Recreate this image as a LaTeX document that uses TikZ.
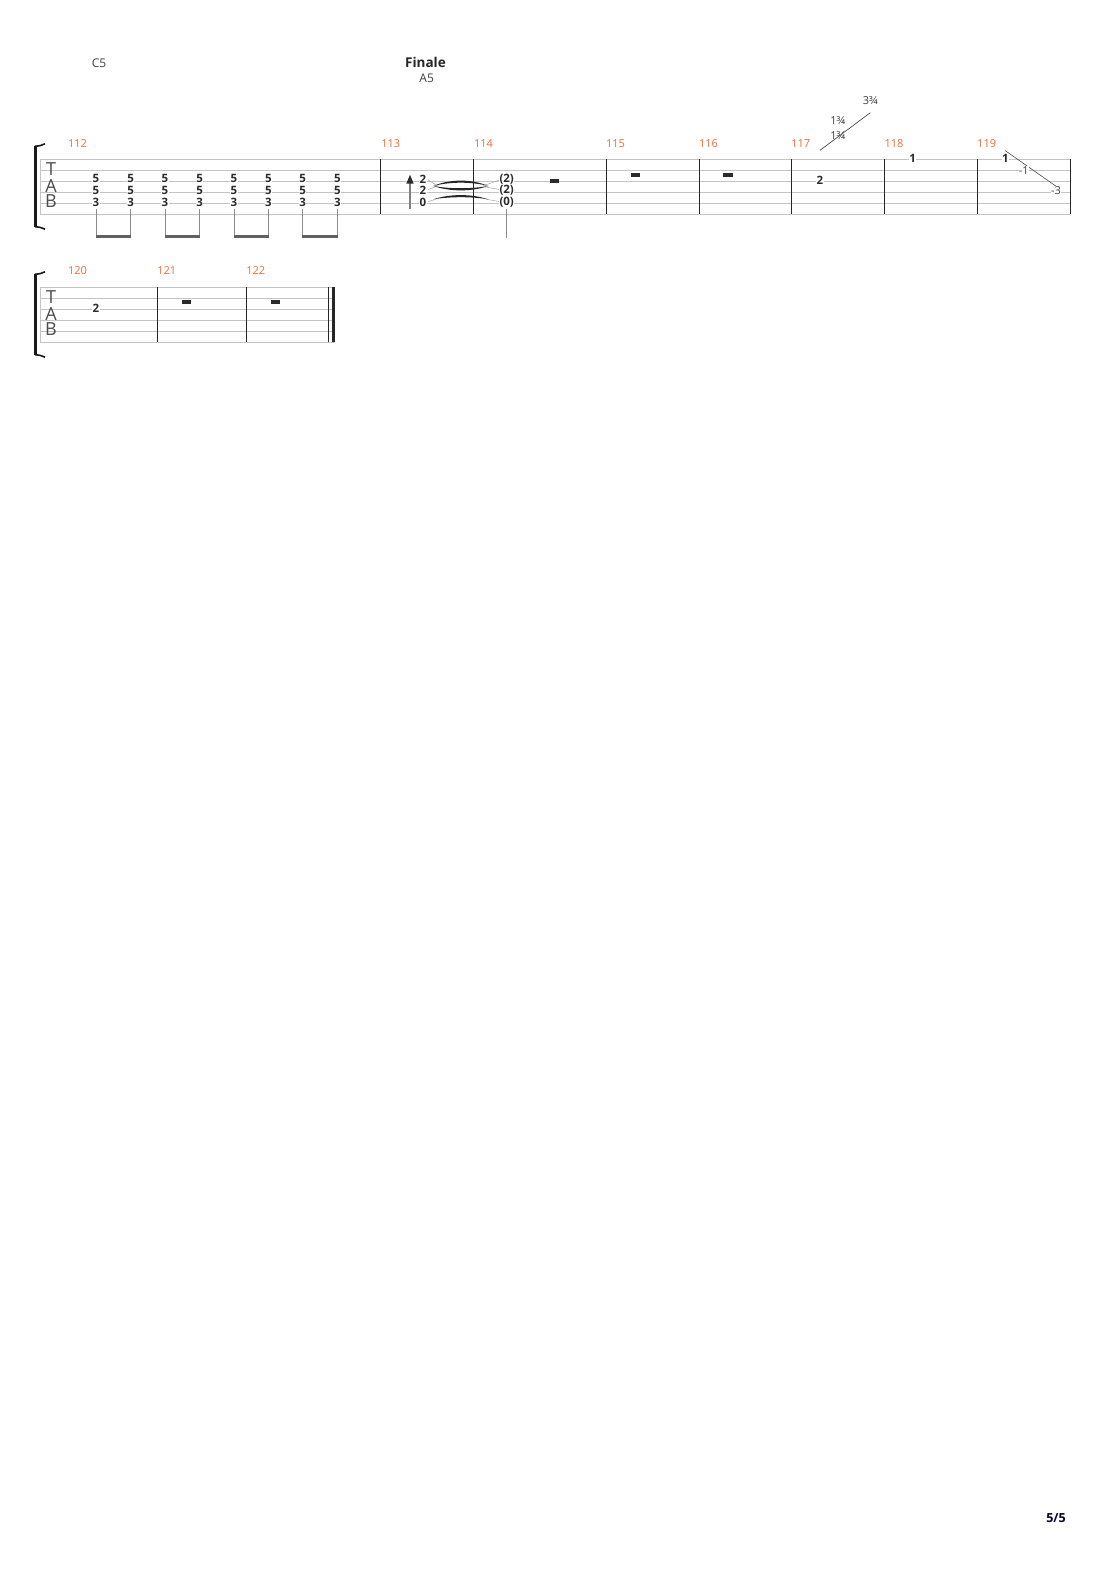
\documentclass[tikz,border=0pt]{standalone}
\usepackage{fontspec}
\setmainfont{Open Sans}
\definecolor{mnum}{HTML}{F26B3A}
\definecolor{staffc}{HTML}{C4C4C4}
\definecolor{barc}{HTML}{262626}
\definecolor{inkc}{HTML}{2B2B2B}
\begin{document}
\begin{tikzpicture}[x=1pt,y=-1pt,
  fret/.style={font=\bfseries\fontsize{11.5}{11.5}\selectfont, inner sep=0.5pt, fill=white, text=inkc},
  mnumst/.style={font=\fontsize{11}{11}\selectfont, text=mnum, inner sep=0, anchor=west},
  tabl/.style={font=\fontsize{18}{18}\selectfont, text=black!70, inner sep=0},
  chord/.style={font=\fontsize{12}{12}\selectfont, text=black!75, inner sep=0},
  small/.style={font=\fontsize{11}{11}\selectfont, text=black!75, inner sep=0},
  staffline/.style={draw=staffc, line width=0.9pt},
  barline/.style={draw=barc, line width=1.1pt},
  reststyle/.style={fill=inkc},
  stem/.style={draw=black!45, line width=1pt},
  beam/.style={fill=black!62},
  tiefill/.style={fill=black!85},
  tiethin/.style={draw=black!35, line width=0.5pt},
  brack/.style={draw=black!90, line width=2.6pt}
]
\useasboundingbox (0,0) rectangle (1110,1570);
\fill[white] (0,0) rectangle (1110,1570);

% ---------- headers ----------
\node[chord] (cC) at (99,63.5) {C5};
\node[font=\bfseries\fontsize{13.5}{13.5}\selectfont, text=black!85, inner sep=0] (fin) at (425.5,62.5) {Finale};
\node[chord] (cA) at (426.7,77.8) {A5};

% ---------- staff 1 ----------
\foreach \i in {0,...,5}{
  \draw[staffline] (40,{159.3+11*\i}) -- (1070.3,{159.3+11*\i});
}
\draw[draw=staffc, line width=0.9pt] (40,159.3) -- (40,214.3);
\foreach \bx in {380.3,473.3,606.3,699.3,791.3,884.3,977.3,1070.3}{
  \draw[barline] (\bx,159.3) -- (\bx,214.3);
}
% bracket
\draw[brack] (35.5,146) -- (35.5,227);
\draw[draw=black!90, line width=1.6pt] (35,146.2) .. controls (39,146) and (42,145.5) .. (45,143.8);
\draw[draw=black!90, line width=1.6pt] (35,226.8) .. controls (39,227) and (42,227.5) .. (45,229.2);
\node[tabl] (t1) at (51,169.4) {T};
\node[tabl] (a1) at (51,185.8) {A};
\node[tabl] (b1) at (51,200.8) {B};

% measure numbers
\node[mnumst] (m112) at (67.8,144) {112};
\node[mnumst] (m113) at (381.2,144) {113};
\node[mnumst] (m114) at (473.8,144) {114};
\node[mnumst] (m115) at (605.8,144) {115};
\node[mnumst] (m116) at (698.8,144) {116};
\node[mnumst] (m117) at (791.2,144) {117};
\node[mnumst] (m118) at (884.3,144) {118};
\node[mnumst] (m119) at (977,144) {119};

% measure 112
\foreach \x [count=\k] in {96,130.7,165,199.7,234,268.3,302.7,337.3}{
  \draw[stem] (\x,209) -- (\x,237);
  \node[fret] (n112a\k) at (\x,178.9) {5};
  \node[fret] (n112b\k) at (\x,190.6) {5};
  \node[fret] (n112c\k) at (\x,202.4) {3};
}
\foreach \xa/\xb in {96/130.7,165/199.7,234/268.3,302.7/337.3}{
  \fill[beam] ({\xa-0.5},235.3) rectangle ({\xb+0.5},238.4);
}

% measure 113
\draw[draw=black!50, line width=1.1pt] (410,209.5) -- (410,182);
\fill[inkc] (410,174.8) -- (406.3,183.6) -- (413.7,183.6) -- cycle;
\node[fret] (n113a) at (423,178.9) {2};
\node[fret] (n113b) at (423,190.6) {2};
\node[fret] (n113c) at (423,202.4) {0};

% ties
\draw[tiethin] (428.3,180) -- (438.3,186.6);
\draw[tiethin] (428.3,189.5) -- (438.3,185.6);
\draw[tiethin] (483.5,185.6) -- (499.5,180);
\draw[tiethin] (483.5,186.6) -- (499.5,189.5);
\draw[tiethin] (428.3,201.5) -- (436,199.3);
\draw[tiethin] (486,199.3) -- (499.5,201.5);
\fill[tiefill] (433.3,186) .. controls (450,178.8) and (471.6,178.8) .. (488.3,186)
  .. controls (471.6,181.6) and (450,181.6) .. (433.3,186) -- cycle;
\fill[tiefill] (433.3,186) .. controls (450,191.8) and (471.6,191.8) .. (488.3,186)
  .. controls (471.6,189) and (450,189) .. (433.3,186) -- cycle;
\fill[tiefill] (433.3,199.3) .. controls (450,193.7) and (471.6,193.7) .. (488.3,199.3)
  .. controls (471.6,196.5) and (450,196.5) .. (433.3,199.3) -- cycle;

% measure 114
\node[fret] (n114a) at (506.7,178.9) {(2)};
\node[fret] (n114b) at (506.7,190.6) {(2)};
\node[fret] (n114c) at (506.7,202.4) {(0)};
\draw[stem] (506.7,209) -- (506.7,238.5);
\fill[reststyle] (549.8,179.3) rectangle (559,183.4);

% measure 115, 116
\fill[reststyle] (630.8,172.7) rectangle (640.2,177);
\fill[reststyle] (723.3,172.9) rectangle (732.7,177.3);

% measure 117
\node[fret] (n117) at (820,180) {2};
\coordinate (b117s) at (820,150.3);
\coordinate (b117e) at (870.3,112.7);
\draw[draw=black!80, line width=0.6pt] (b117s) -- (b117e);
\node[small] (l1a) at (837.7,120.8) {1¾};
\node[small] (l1b) at (837.7,135.2) {1¾};
\node[small] (l3) at (870.3,100.8) {3¾};

% measure 118
\node[fret] (n118) at (912.7,158.3) {1};

% measure 119
\node[fret] (n119) at (1005.5,158) {1};
\coordinate (b119s) at (1005.3,150.7);
\coordinate (b119e) at (1056.7,186.7);
\draw[draw=black!70, line width=0.6pt] (b119s) -- (b119e);
\node[small, fill=white, inner sep=0.3pt] (d1) at (1023.7,170.5) {-1};
\node[small, fill=white, inner sep=0.3pt] (d3) at (1056,190.5) {-3};

% ---------- staff 2 ----------
\foreach \i in {0,...,5}{
  \draw[staffline] (40,{287.3+11*\i}) -- (335.3,{287.3+11*\i});
}
\draw[draw=staffc, line width=0.9pt] (40,287.3) -- (40,342.3);
\foreach \bx in {157.7,246.7,328.7}{
  \draw[barline] (\bx,287.3) -- (\bx,342.3);
}
\fill[barc] (332,287.3) rectangle (335.4,342.3);
\draw[brack] (35.5,274) -- (35.5,355);
\draw[draw=black!90, line width=1.6pt] (35,274.2) .. controls (39,274) and (42,273.5) .. (45,271.8);
\draw[draw=black!90, line width=1.6pt] (35,354.8) .. controls (39,355) and (42,355.5) .. (45,357.2);
\node[tabl] (t2) at (51,297.4) {T};
\node[tabl] (a2) at (51,313.8) {A};
\node[tabl] (b2) at (51,328.8) {B};

\node[mnumst] (m120) at (67.8,271) {120};
\node[mnumst] (m121) at (157.2,271) {121};
\node[mnumst] (m122) at (246.2,271) {122};

\node[fret] (n120) at (96,308) {2};
\fill[reststyle] (182,299.9) rectangle (191.4,304.1);
\fill[reststyle] (271,299.9) rectangle (280.4,304.1);

% page number
\node[font=\bfseries\fontsize{12.5}{12.5}\selectfont, text=black!80!blue, inner sep=0] (pg) at (1056,1518) {5/5};
\end{tikzpicture}
\end{document}
